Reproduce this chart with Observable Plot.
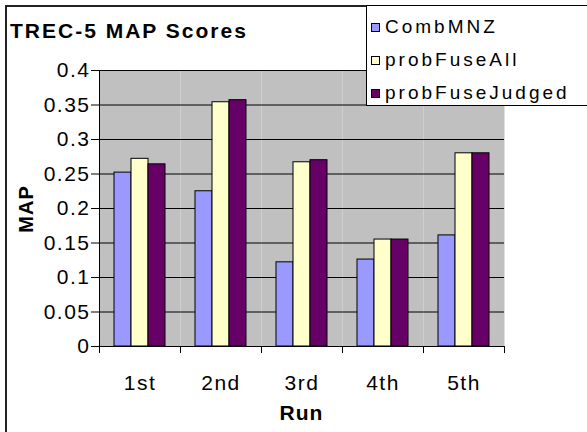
<!DOCTYPE html>
<html>
<head>
<meta charset="utf-8">
<script src="https://cdn.jsdelivr.net/npm/d3@7"></script>
<script src="https://cdn.jsdelivr.net/npm/@observablehq/plot@0.6"></script>
<style>
  html, body { margin: 0; padding: 0; background: #fff; overflow: hidden; }
  #chart { position: relative; width: 587px; height: 432px; overflow: hidden; background: #fff;
           font-family: "Liberation Sans", Arial, sans-serif; color: #000; }
  #chart svg { position: absolute; left: 0; top: 0; }
  #chart svg text { letter-spacing: 1.5px; }
  .lbl { position: absolute; white-space: nowrap; line-height: 1; transform: translate(-50%, -50%); }
  #border { position: absolute; left: 5px; top: 5px; width: 800px; height: 800px;
            border-left: 2px solid #222; border-top: 2px solid #222; }
  #legend { position: absolute; left: 366px; top: 5px; width: 240px; height: 99px;
            border: 1px solid #000; background: #fff; }
  .row { position: absolute; left: 4px; height: 22px; display: flex; align-items: center;
         font-size: 19px; letter-spacing: 3px; transform: translateY(-50%); white-space: nowrap; }
  .sw { width: 7px; height: 7px; border: 1px solid #000; margin-right: 5px; }
</style>
</head>
<body>
<div id="chart"></div>
<script>
const runs = ["1st", "2nd", "3rd", "4th", "5th"];
const series = ["CombMNZ", "probFuseAll", "probFuseJudged"];
const combMNZ = [0.252, 0.225, 0.122, 0.126, 0.161];
const probFuseAll = [0.272, 0.354, 0.267, 0.155, 0.280];
const probFuseJudged = [0.264, 0.357, 0.270, 0.155, 0.280];
const colors = ["#9999FF", "#FFFFCC", "#660066"];
const yTicks = [0, 0.05, 0.1, 0.15, 0.2, 0.25, 0.3, 0.35, 0.4];
const yTickLabels = ["0", "0.05", "0.1", "0.15", "0.2", "0.25", "0.3", "0.35", "0.4"];
const title = "TREC-5 MAP Scores";
const xLabel = "Run";
const yLabel = "MAP";

const values = [combMNZ, probFuseAll, probFuseJudged];
const data = [];
runs.forEach((r, i) => series.forEach((s, j) => data.push({run: r, series: s, value: values[j][i]})));

const font = '"Liberation Sans", Arial, sans-serif';

const plot = Plot.plot({
  width: 587,
  height: 432,
  marginTop: 70,
  marginBottom: 86,
  marginLeft: 97,
  marginRight: 82,
  style: {fontFamily: font, fontSize: "21px", color: "#000", background: "transparent", overflow: "visible"},
  fx: {domain: runs, paddingInner: 0, paddingOuter: 0, label: null},
  x: {domain: series, paddingInner: 0, paddingOuter: 0.767, axis: null},
  y: {domain: [0, 0.4], label: null},
  color: {domain: series, range: colors},
  marks: [
    Plot.frame({fill: "#C0C0C0", stroke: null}),
    Plot.gridY(yTicks, {stroke: "#000", strokeOpacity: 1, strokeWidth: 1}),
    Plot.barY(data, {fx: "run", x: "series", y: "value", fill: "series", stroke: "#000", strokeWidth: 1}),
    Plot.axisY(yTicks, {tickSize: 8, tickPadding: 1, tickFormat: (d, i) => yTickLabels[i], label: null, fontSize: 21, stroke: "#000"}),
    Plot.axisFx({anchor: "bottom", tickSize: 0, tickPadding: 29, label: null, fontSize: 21})
  ]
});

const chart = document.getElementById("chart");
chart.appendChild(plot);

// axis lines and category boundary ticks from the library's scales
const fx = plot.scale("fx");
const y = plot.scale("y");
const svg = d3.select(plot);
const y0 = y.apply(0), yTop = y.apply(0.4);
const xs = runs.map(r => fx.apply(r));
xs.push(fx.apply(runs[runs.length - 1]) + fx.bandwidth);
const g = svg.append("g").attr("stroke", "#000").attr("stroke-width", 1);
g.append("line").attr("x1", xs[0] + 0.5).attr("x2", xs[0] + 0.5).attr("y1", yTop).attr("y2", y0);
g.append("line").attr("x1", xs[0]).attr("x2", xs[xs.length - 1]).attr("y1", y0 + 0.5).attr("y2", y0 + 0.5);
xs.forEach(x => g.append("line").attr("x1", Math.round(x) + 0.5).attr("x2", Math.round(x) + 0.5).attr("y1", y0).attr("y2", y0 + 7));

// border, title, axis labels, legend
const add = (html) => { chart.insertAdjacentHTML("beforeend", html); };
add(`<div id="border"></div>`);
add(`<div class="lbl" style="left:10px;top:30px;transform:translateY(-50%);font-weight:bold;font-size:21px;letter-spacing:2px">${title}</div>`);
add(`<div class="lbl" style="left:26px;top:209px;transform:translate(-50%,-50%) rotate(-90deg);font-weight:bold;font-size:20px;letter-spacing:1px">${yLabel}</div>`);
add(`<div class="lbl" style="left:${(xs[0] + xs[xs.length - 1]) / 2}px;top:412px;font-weight:bold;font-size:21px;letter-spacing:1px">${xLabel}</div>`);
const tops = [21, 54, 87];
add(`<div id="legend">${series.map((s, i) =>
  `<div class="row" style="top:${tops[i]}px"><div class="sw" style="background:${colors[i]}"></div>${s}</div>`).join("")}</div>`);
</script>
</body>
</html>
